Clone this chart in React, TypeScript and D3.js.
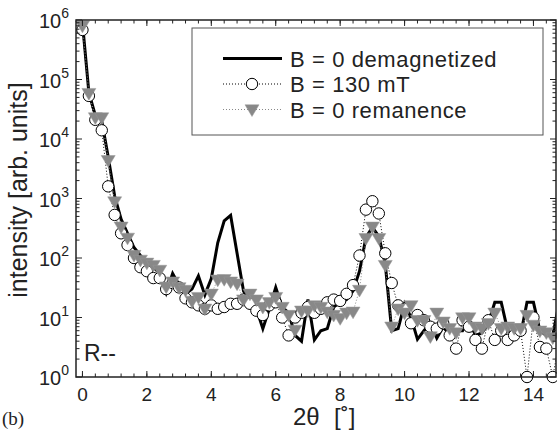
import React from "react";
import * as d3 from "d3";

// 2θ grid (degrees)
const twoTheta = [
  0, 0.2, 0.4, 0.6, 0.8, 1.0, 1.2, 1.4, 1.6, 1.8,
  2.0, 2.2, 2.4, 2.6, 2.8, 3.0, 3.2, 3.4, 3.6, 3.8,
  4.0, 4.2, 4.4, 4.6, 4.8, 5.0, 5.2, 5.4, 5.6, 5.8,
  6.0, 6.2, 6.4, 6.6, 6.8, 7.0, 7.2, 7.4, 7.6, 7.8,
  8.0, 8.2, 8.4, 8.6, 8.8, 9.0, 9.2, 9.4, 9.6, 9.8,
  10.0, 10.2, 10.4, 10.6, 10.8, 11.0, 11.2, 11.4, 11.6, 11.8,
  12.0, 12.2, 12.4, 12.6, 12.8, 13.0, 13.2, 13.4, 13.6, 13.8,
  14.0, 14.2, 14.4, 14.6, 14.8,
];

// B = 0 demagnetized (solid black)
const demag = [
  9e5, 6e4, 2.5e4, 2.0e4, 5e3, 1100, 450, 260, 150, 110,
  85, 70, 55, 26, 55, 35, 25, 30, 50, 24,
  45, 180, 420, 520, 120, 28, 18, 14, 6.5, 14,
  32, 15, 12, 5, 4, 20, 4.2, 6, 6.5, 15,
  18, 20, 28, 60, 220, 330, 230, 80, 6, 6.5,
  17, 10, 4.3, 6, 8, 4.5, 7, 5, 6, 6,
  9, 5, 5.5, 8, 18, 18, 6, 5, 5, 18,
  18, 6, 5, 5, 18,
];

// B = 130 mT (open circles)
const field130 = [
  6.8e5, 5.3e4, 2.1e4, 1.4e4, 1.6e3, 530, 260, 165, 100, 70,
  60, 46, 46, 30, 38, 32, 21, 18, 16, 14,
  16, 14, 15, 17, 17, 20, 17, 13, 11, 16,
  18, 10, 5, 10, 12, 15, 12, 14, 18, 20,
  19, 25, 35, 110, 650, 900, 560, 120, 38, 16,
  14, 8, 11, 9, 7, 6.5, 8, 5, 3, 9,
  7, 4.2, 3, 9, 4.2, 6, 4.2, 5, 6, 1,
  10, 3.2, 3, 1, 4,
];

// B = 0 remanence (grey triangles)
const remanence = [
  8e5, 5.9e4, 2.3e4, 2.3e4, 4.4e3, 890, 335, 218, 112, 93,
  83, 76, 63, 33, 40, 32, 29, 19, 22, 14,
  25, 43, 44, 40, 37, 20, 25, 20, 15, 18,
  22, 15, 11, 6.2, 13, 13, 16, 15, 12.5, 11,
  9.7, 12, 12.5, 29, 215, 335, 215, 76, 7, 14,
  12, 16, 9, 9, 4.8, 12, 8.5, 6.6, 5.6, 10,
  10, 7, 6.6, 8, 12, 6.6, 7, 6.6, 6.6, 11,
  7.5, 6, 5.6, 4.6, 5,
];

const xTicks = [0, 2, 4, 6, 8, 10, 12, 14];
const yDecades = [0, 1, 2, 3, 4, 5, 6];
const legendLabels = ["B = 0 demagnetized", "B = 130 mT", "B = 0 remanence"];

const W = 557;
const H = 433;
const L = 76, R = 556, T = 20, B = 377;
const FONT = "'Liberation Sans', Arial, Helvetica, sans-serif";

export default function App() {
  const x = d3.scaleLinear().domain([-0.2, 14.7]).range([L, R]);
  const y = d3.scaleLog().domain([1, 1e6]).range([B, T]);

  const pts = (vals: number[]) => twoTheta.map((t, i) => [t, vals[i]] as [number, number]);
  const line = d3.line<[number, number]>().x((d) => x(d[0])).y((d) => y(d[1]));

  const inX = (d: [number, number]) => d[0] <= 14.7;

  const minorX: number[] = [];
  for (let v = 0; v <= 14.7; v += 0.4) minorX.push(+v.toFixed(2));
  const minorY: number[] = [];
  for (let e = 0; e < 6; e++) for (let m = 2; m <= 9; m++) minorY.push(m * Math.pow(10, e));

  const tri = "M-7,-4.7L7,-4.7L0,7Z";
  const axisColor = "#222";

  return (
    <svg width={W} height={H} style={{ position: "absolute", left: 0, top: 0, background: "#fff" }}>
      <defs>
        <clipPath id="plotClip">
          <rect x={L} y={T} width={R - L} height={B - T} />
        </clipPath>
      </defs>
      <rect x={0} y={0} width={W} height={H} fill="#fff" />

      {/* data */}
      <g clipPath="url(#plotClip)">
        <path d={line(pts(demag)) || ""} fill="none" stroke="#000" strokeWidth={3} strokeLinejoin="miter" />
        <path d={line(pts(field130)) || ""} fill="none" stroke="#000" strokeWidth={1} strokeDasharray="1,2" />
        <path d={line(pts(remanence)) || ""} fill="none" stroke="#888" strokeWidth={1} strokeDasharray="1,2" />
      </g>
      {pts(field130).filter(inX).map((d, i) => (
        <circle key={"c" + i} cx={x(d[0])} cy={y(d[1])} r={5.7} fill="#fff" stroke="#000" strokeWidth={1} />
      ))}
      {pts(remanence).filter(inX).map((d, i) => (
        <path key={"t" + i} d={tri} transform={`translate(${x(d[0])},${y(d[1])})`} fill="#888" stroke="#999" strokeWidth={0.5} />
      ))}

      {/* axes box */}
      <rect x={L} y={T} width={R - L} height={B - T} fill="none" stroke={axisColor} strokeWidth={1.5} />
      {xTicks.map((v) => (
        <g key={"xt" + v}>
          <line x1={x(v)} x2={x(v)} y1={B} y2={B - 6} stroke={axisColor} />
          <line x1={x(v)} x2={x(v)} y1={T} y2={T + 6} stroke={axisColor} />
          <text x={x(v)} y={B + 24} textAnchor="middle" fontFamily={FONT} fontSize={19} fill="#222">{v}</text>
        </g>
      ))}
      {minorX.map((v, i) => (
        <g key={"xm" + i}>
          <line x1={x(v)} x2={x(v)} y1={B} y2={B - 3.5} stroke={axisColor} />
          <line x1={x(v)} x2={x(v)} y1={T} y2={T + 3.5} stroke={axisColor} />
        </g>
      ))}
      {yDecades.map((e) => (
        <g key={"yt" + e}>
          <line x1={L} x2={L + 6} y1={y(Math.pow(10, e))} y2={y(Math.pow(10, e))} stroke={axisColor} />
          <line x1={R} x2={R - 6} y1={y(Math.pow(10, e))} y2={y(Math.pow(10, e))} stroke={axisColor} />
          <text x={L - 7} y={y(Math.pow(10, e)) + 8} textAnchor="end" fontFamily={FONT} fontSize={20} fill="#222">
            10<tspan dy={-10} fontSize={14}>{e}</tspan>
          </text>
        </g>
      ))}
      {minorY.map((v, i) => (
        <g key={"ym" + i}>
          <line x1={L} x2={L + 3.5} y1={y(v)} y2={y(v)} stroke={axisColor} />
          <line x1={R} x2={R - 3.5} y1={y(v)} y2={y(v)} stroke={axisColor} />
        </g>
      ))}

      {/* labels */}
      <text y={425} fontFamily={FONT} fontSize={24} fill="#222">
        <tspan x={293}>2θ</tspan>
        <tspan x={334}>[˚]</tspan>
      </text>
      <text transform={`translate(27,190) rotate(-90)`} textAnchor="middle" fontFamily={FONT} fontSize={25} fill="#222">
        intensity [arb. units]
      </text>
      <text x={84} y={361} fontFamily={FONT} fontSize={23} fill="#222">R--</text>
      <text x={2} y={425} fontFamily="'Liberation Serif', 'Times New Roman', serif" fontSize={19} fill="#222">(b)</text>

      {/* legend */}
      <g>
        <rect x={192} y={28} width={351} height={107} fill="#fff" stroke="#555" strokeWidth={1} />
        {legendLabels.map((lab, i) => {
          const cy = 58.5 + i * 25.5;
          return (
            <g key={"lg" + i}>
              {i === 0 && <line x1={223} x2={282} y1={cy} y2={cy} stroke="#000" strokeWidth={3} />}
              {i === 1 && (
                <g>
                  <line x1={223} x2={282} y1={cy} y2={cy} stroke="#000" strokeWidth={1} strokeDasharray="1,2" />
                  <circle cx={252} cy={cy} r={5.7} fill="#fff" stroke="#000" />
                </g>
              )}
              {i === 2 && (
                <g>
                  <line x1={223} x2={282} y1={cy} y2={cy} stroke="#888" strokeWidth={1} strokeDasharray="1,2" />
                  <path d={tri} transform={`translate(252,${cy})`} fill="#888" stroke="#999" strokeWidth={0.5} />
                </g>
              )}
              <text x={290} y={cy + 8} fontFamily={FONT} fontSize={22} letterSpacing={0.6} fill="#222">{lab}</text>
            </g>
          );
        })}
      </g>
    </svg>
  );
}
